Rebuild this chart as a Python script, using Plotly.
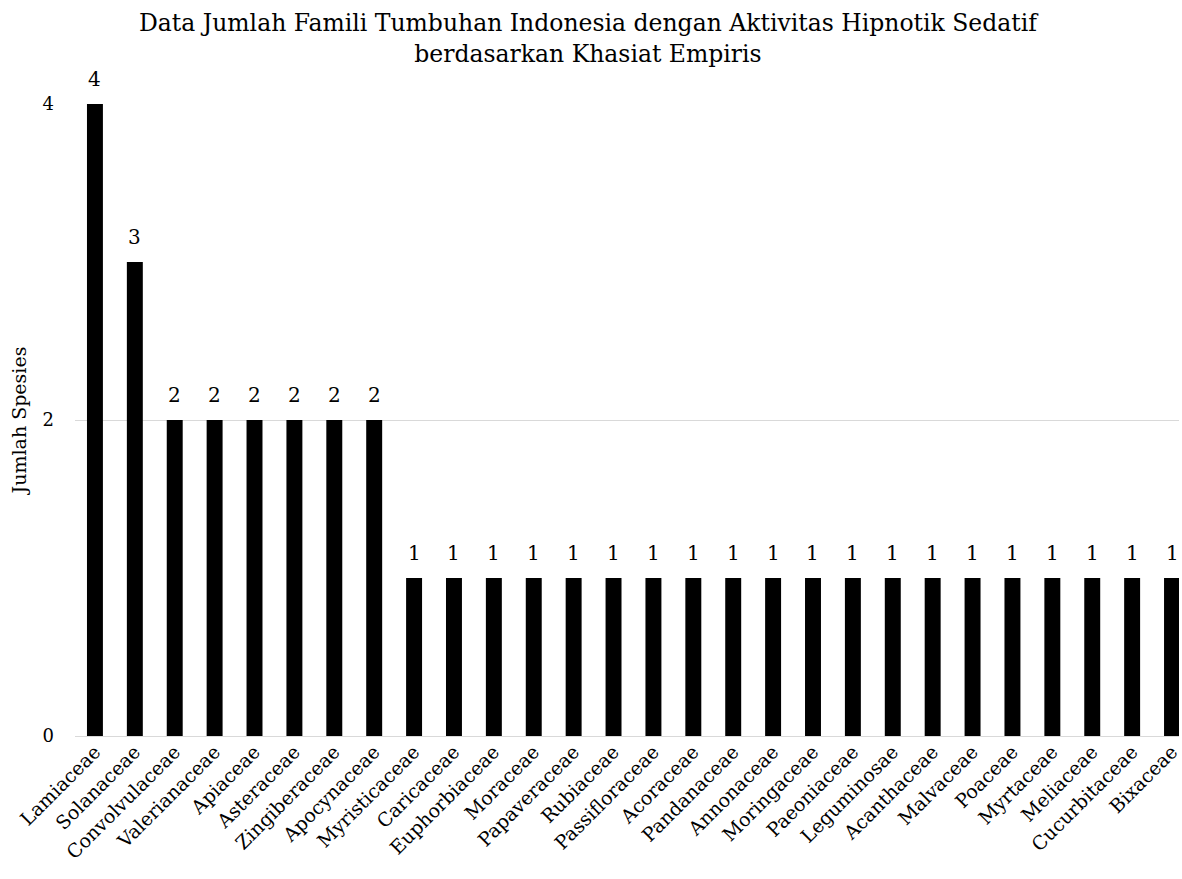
import plotly.graph_objects as go

families = ["Lamiaceae", "Solanaceae", "Convolvulaceae", "Valerianaceae", "Apiaceae",
            "Asteraceae", "Zingiberaceae", "Apocynaceae", "Myristicaceae", "Caricaceae",
            "Euphorbiaceae", "Moraceae", "Papaveraceae", "Rubiaceae", "Passifloraceae",
            "Acoraceae", "Pandanaceae", "Annonaceae", "Moringaceae", "Paeoniaceae",
            "Leguminosae", "Acanthaceae", "Malvaceae", "Poaceae", "Myrtaceae",
            "Meliaceae", "Cucurbitaceae", "Bixaceae"]
counts = [4, 3, 2, 2, 2, 2, 2, 2, 1, 1, 1, 1, 1, 1, 1, 1, 1, 1, 1, 1, 1, 1, 1, 1, 1, 1, 1, 1]
y_ticks = [0, 2, 4]
title_text = ("Data Jumlah Famili Tumbuhan Indonesia dengan Aktivitas Hipnotik Sedatif"
              "<br>berdasarkan Khasiat Empiris")

FONT = "DejaVu Serif"

fig = go.Figure(go.Bar(
    x=families, y=counts, marker_color="black", marker_line_width=0,
    cliponaxis=False,
))

# value labels above bars
for f, c in zip(families, counts):
    fig.add_annotation(x=f, y=c, text=str(c), showarrow=False, yanchor="bottom",
                       yshift=11, font=dict(family=FONT, size=20, color="black"))

fig.add_annotation(text=title_text, xref="paper", yref="paper", x=0.466, y=1.103,
                   xanchor="center", yanchor="middle", showarrow=False,
                   font=dict(family=FONT, size=23.5, color="black"))

fig.update_layout(
    width=1182, height=879,
    margin=dict(l=75, r=0, t=104, b=143),
    plot_bgcolor="white", paper_bgcolor="white",
    bargap=0.6,
    font=dict(family=FONT, size=18, color="black"),
    showlegend=False,
)
fig.update_xaxes(range=[-0.5, 27.175], tickangle=-45, showgrid=False,
                 showline=False, ticks="", tickfont=dict(size=19))
fig.update_yaxes(range=[0, 4], tickvals=y_ticks, showgrid=True, gridcolor="#d9d9d9",
                 gridwidth=1, zeroline=True, zerolinecolor="#d9d9d9", zerolinewidth=1,
                 ticks="", ticklabelstandoff=20, tickfont=dict(size=18),
                 title=dict(text="Jumlah Spesies", font=dict(size=19), standoff=10))

fig.write_html("out.html")
